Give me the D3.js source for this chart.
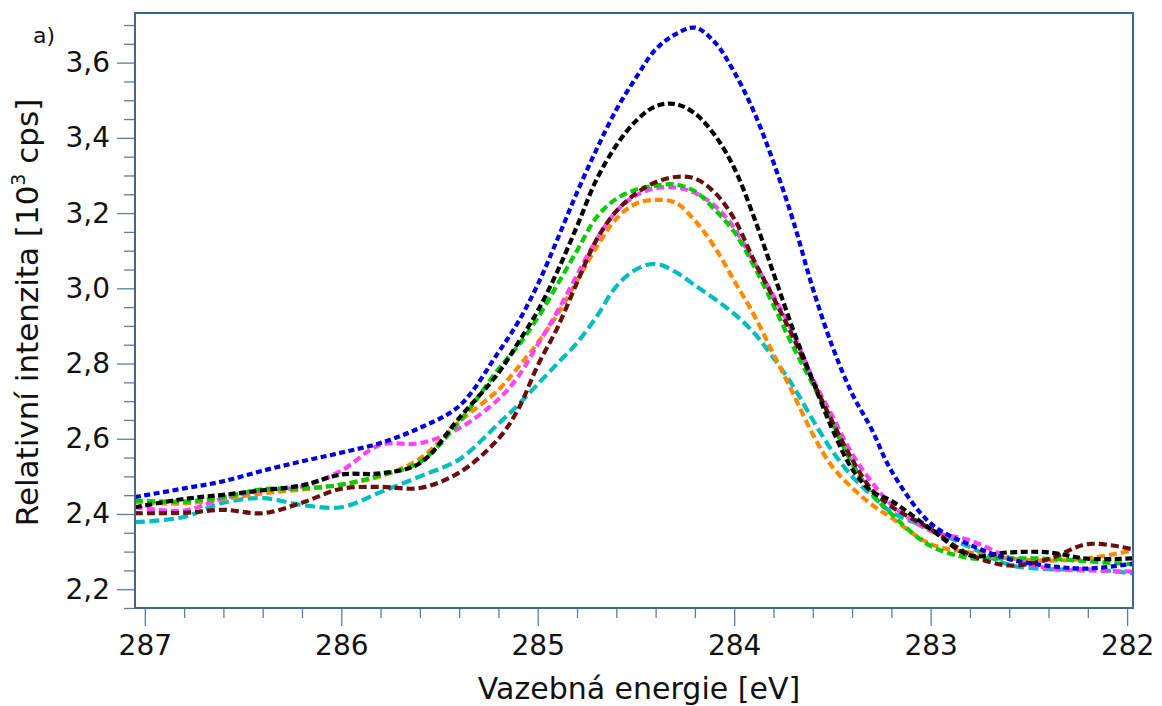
<!DOCTYPE html>
<html>
<head>
<meta charset="utf-8">
<script src="https://cdn.jsdelivr.net/npm/d3@7"></script>
<style>
  body { margin: 0; background: #fff; }
  text { font-family: "DejaVu Sans", Verdana, sans-serif; fill: #111; }
</style>
</head>
<body>
<div id="chart"></div>
<script>
// binding energy grid [eV] (finer sampling around the peak)
const energy = [287.05, 286.8, 286.6, 286.4, 286.2, 286.0, 285.8, 285.6, 285.4, 285.2,
  285.1, 285.0, 284.9, 284.8, 284.7, 284.6, 284.5, 284.4, 284.3, 284.2,
  284.1, 284.0, 283.9, 283.8, 283.7, 283.6, 283.5, 283.4, 283.3, 283.2,
  283.0, 282.8, 282.6, 282.4, 282.2, 281.97];

// relative intensity [10^3 cps], one array per spectrum
const blue = [2.445, 2.468, 2.487, 2.515, 2.540, 2.563, 2.589, 2.629, 2.687, 2.830,
  2.910, 3.010, 3.130, 3.255, 3.370, 3.475, 3.560, 3.635, 3.675, 3.693,
  3.655, 3.575, 3.470, 3.335, 3.180, 3.000, 2.845, 2.720, 2.625, 2.515,
  2.375, 2.318, 2.280, 2.262, 2.255, 2.268];
const black = [2.418, 2.440, 2.451, 2.463, 2.476, 2.505, 2.508, 2.535, 2.655, 2.775,
  2.855, 2.940, 3.045, 3.165, 3.290, 3.380, 3.445, 3.484, 3.490, 3.465,
  3.408, 3.320, 3.190, 3.040, 2.890, 2.754, 2.625, 2.520, 2.460, 2.435,
  2.360, 2.290, 2.298, 2.298, 2.281, 2.282];
const green = [2.436, 2.433, 2.445, 2.466, 2.468, 2.478, 2.503, 2.538, 2.645, 2.785,
  2.847, 2.922, 3.010, 3.100, 3.189, 3.238, 3.262, 3.273, 3.276, 3.258,
  3.210, 3.150, 3.060, 2.955, 2.845, 2.745, 2.640, 2.535, 2.455, 2.400,
  2.315, 2.283, 2.282, 2.281, 2.274, 2.266];
const magenta = [2.418, 2.409, 2.442, 2.462, 2.473, 2.515, 2.584, 2.588, 2.628, 2.705,
  2.765, 2.850, 2.938, 3.035, 3.130, 3.205, 3.247, 3.266, 3.268, 3.254,
  3.220, 3.160, 3.070, 2.980, 2.880, 2.760, 2.660, 2.560, 2.485, 2.425,
  2.355, 2.330, 2.284, 2.255, 2.250, 2.247];
const orange = [2.432, 2.428, 2.440, 2.455, 2.465, 2.478, 2.500, 2.547, 2.645, 2.730,
  2.790, 2.855, 2.930, 3.020, 3.110, 3.185, 3.225, 3.235, 3.228, 3.180,
  3.110, 3.020, 2.930, 2.825, 2.720, 2.612, 2.525, 2.470, 2.425, 2.390,
  2.320, 2.297, 2.282, 2.276, 2.282, 2.303];
const maroon = [2.402, 2.403, 2.411, 2.402, 2.430, 2.467, 2.472, 2.469, 2.510, 2.600,
  2.678, 2.795, 2.895, 3.015, 3.130, 3.205, 3.252, 3.282, 3.296, 3.292,
  3.255, 3.185, 3.075, 2.975, 2.870, 2.754, 2.645, 2.545, 2.465, 2.420,
  2.360, 2.292, 2.263, 2.280, 2.320, 2.306];
const cyan = [2.378, 2.392, 2.430, 2.442, 2.424, 2.418, 2.458, 2.500, 2.545, 2.640,
  2.690, 2.745, 2.800, 2.855, 2.925, 3.005, 3.050, 3.065, 3.044, 3.008,
  2.972, 2.932, 2.882, 2.815, 2.740, 2.650, 2.567, 2.500, 2.450, 2.405,
  2.360, 2.312, 2.265, 2.253, 2.253, 2.242];

const xTicks = [287, 286, 285, 284, 283, 282];
const yTicks = [2.2, 2.4, 2.6, 2.8, 3.0, 3.2, 3.4, 3.6];

// drawing order, bottom to top
const series = [
  {values: cyan,    color: "#00bdbd", dash: "10,4.5"},
  {values: orange,  color: "#ff8a00", dash: "8,4"},
  {values: magenta, color: "#ff44ff", dash: "8,4"},
  {values: green,   color: "#00cc00", dash: "8,4"},
  {values: maroon,  color: "#661010", dash: "8,4"},
  {values: black,   color: "#000000", dash: "7,3.5"},
  {values: blue,    color: "#0000dd", dash: "6,3.5"}
];

const width = 1162, height = 706;
const plot = {left: 135, right: 1133, top: 13, bottom: 608};

const svg = d3.select("#chart").append("svg")
  .attr("width", width)
  .attr("height", height);

const x = d3.scaleLinear().domain([287.05, 281.97]).range([plot.left, plot.right]);
const y = d3.scaleLinear().domain([2.15, 3.732]).range([plot.bottom, plot.top]);

const axisColor = "#3e6690";
const fmt = d => d3.format(".1f")(d).replace(".", ",");

// minor ticks
const yMinor = d3.range(2.15, 3.72, 0.05).filter(v => !yTicks.some(t => Math.abs(t - v) < 1e-6));
const xMinor = d3.range(287.0, 281.9, -0.2).filter(v => !xTicks.some(t => Math.abs(t - v) < 1e-6));

const gyMinor = svg.append("g").attr("transform", `translate(${plot.left - 1},0)`)
  .call(d3.axisLeft(y).tickValues(yMinor).tickSize(10).tickFormat(""));
const gy = svg.append("g").attr("transform", `translate(${plot.left - 1},0)`)
  .call(d3.axisLeft(y).tickValues(yTicks).tickSize(17).tickPadding(7).tickFormat(fmt));
const gxMinor = svg.append("g").attr("transform", `translate(0,${plot.bottom})`)
  .call(d3.axisBottom(x).tickValues(xMinor).tickSize(10).tickFormat(""));
const gx = svg.append("g").attr("transform", `translate(0,${plot.bottom})`)
  .call(d3.axisBottom(x).tickValues(xTicks).tickSize(18).tickPadding(9).tickFormat(d3.format("d")));

[gyMinor, gy, gxMinor, gx].forEach(g => {
  g.select(".domain").remove();
  g.selectAll(".tick line").attr("stroke", axisColor).attr("stroke-width", 1.3).attr("stroke-opacity", 0.85);
  g.selectAll("text").attr("fill", "#111").style("font-size", "28px")
    .style("font-family", "'DejaVu Sans', Verdana, sans-serif");
});

// curves
const line = d3.line()
  .x((d, i) => x(energy[i]))
  .y(d => y(d))
  .curve(d3.curveCatmullRom.alpha(0.5));

svg.append("g")
  .selectAll("path")
  .data(series)
  .join("path")
    .attr("d", d => line(d.values))
    .attr("fill", "none")
    .attr("stroke", d => d.color)
    .attr("stroke-width", 4.2)
    .attr("stroke-dasharray", d => d.dash);

// frame
svg.append("rect")
  .attr("x", plot.left).attr("y", plot.top)
  .attr("width", plot.right - plot.left).attr("height", plot.bottom - plot.top)
  .attr("fill", "none")
  .attr("stroke", axisColor)
  .attr("stroke-width", 2);

// labels
svg.append("text")
  .attr("x", 33).attr("y", 43)
  .style("font-size", "22px")
  .text("a)");

svg.append("text")
  .attr("x", (plot.left + plot.right) / 2 + 5).attr("y", 699)
  .attr("text-anchor", "middle")
  .style("font-size", "30px")
  .text("Vazebná energie [eV]");

const yTitle = svg.append("text")
  .attr("transform", `translate(38,${(plot.top + plot.bottom) / 2 + 2}) rotate(-90)`)
  .attr("text-anchor", "middle")
  .style("font-size", "31px");
yTitle.append("tspan").text("Relativní intenzita [10");
yTitle.append("tspan").attr("dy", -13).style("font-size", "19px").text("3");
yTitle.append("tspan").attr("dy", 13).text(" cps]");
</script>
</body>
</html>
